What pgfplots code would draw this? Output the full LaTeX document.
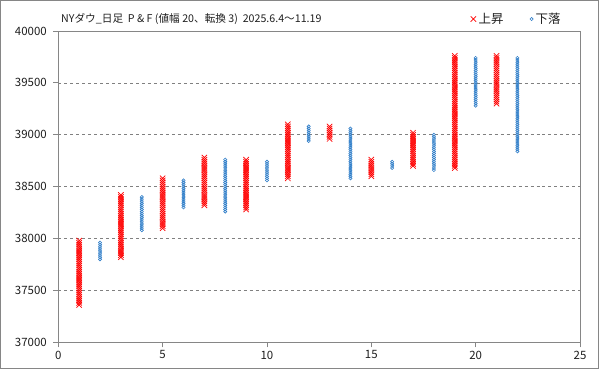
\documentclass[border=0pt]{standalone}
\usepackage{pgfplots}
\pgfplotsset{compat=1.18}
\usepackage{fontspec}
\setmainfont{Noto Sans CJK JP}
\definecolor{xred}{RGB}{255,0,0}
\definecolor{oblue}{RGB}{46,125,200}
\definecolor{axgray}{RGB}{134,134,134}
\definecolor{gridgray}{RGB}{128,128,128}
\definecolor{txt}{RGB}{30,30,30}
\begin{document}
\begin{tikzpicture}
\useasboundingbox (0bp,0bp) rectangle (599bp,369bp);
\draw[axgray, line width=1bp] (0.5bp,0.5bp) rectangle (598.5bp,368.5bp);
\node[anchor=west, font=\fontsize{10.7}{13}\selectfont, text=txt, inner sep=0pt] at (61bp,350bp) {NYダウ\_日足\ \ P \& F (値幅 20、転換 3)\ \ 2025.6.4～11.19};
\begin{axis}[
  at={(58.3bp,26.7bp)}, anchor=south west,
  scale only axis, width=521.7bp, height=311.3bp,
  xmin=0, xmax=25, ymin=37000, ymax=40000,
  xtick={0,5,...,25}, ytick={37000,37500,...,40000},
  scaled y ticks=false, scaled x ticks=false,
  ymajorgrids, grid style={gridgray, dashed, line width=0.7bp},
  axis line style={axgray, line width=0.8bp},
  every tick/.style={axgray, line width=0.8bp},
  tick align=outside, major tick length=5bp, tick pos=left,
  /pgf/number format/assume math mode=true,
  /pgf/number format/1000 sep={},
  tick label style={font=\fontsize{11.5}{13}\selectfont, text=txt},
  yticklabel style={xshift=-3bp},
  legend columns=2,
  legend style={draw=none, fill=none, at={(axis description cs:0.7901,1.0385)}, anchor=west, inner sep=0pt,
    font=\fontsize{12.5}{14}\selectfont, text=txt, nodes={inner xsep=2.5bp},
    /tikz/every even column/.append style={column sep=24bp}},
  legend cell align=left,
]
\addplot[only marks, mark=x, mark size=3.8bp, mark options={xred, line width=0.7bp}] coordinates {
(1,37360)(1,37380)(1,37400)(1,37420)(1,37440)(1,37460)(1,37480)(1,37500)(1,37520)(1,37540)(1,37560)(1,37580)(1,37600)(1,37620)(1,37640)(1,37660)(1,37680)(1,37700)(1,37720)(1,37740)(1,37760)(1,37780)(1,37800)(1,37820)(1,37840)(1,37860)(1,37880)(1,37900)(1,37920)(1,37940)(1,37960)(1,37980)
(3,37820)(3,37840)(3,37860)(3,37880)(3,37900)(3,37920)(3,37940)(3,37960)(3,37980)(3,38000)(3,38020)(3,38040)(3,38060)(3,38080)(3,38100)(3,38120)(3,38140)(3,38160)(3,38180)(3,38200)(3,38220)(3,38240)(3,38260)(3,38280)(3,38300)(3,38320)(3,38340)(3,38360)(3,38380)(3,38400)(3,38420)
(5,38100)(5,38120)(5,38140)(5,38160)(5,38180)(5,38200)(5,38220)(5,38240)(5,38260)(5,38280)(5,38300)(5,38320)(5,38340)(5,38360)(5,38380)(5,38400)(5,38420)(5,38440)(5,38460)(5,38480)(5,38500)(5,38520)(5,38540)(5,38560)(5,38580)
(7,38320)(7,38340)(7,38360)(7,38380)(7,38400)(7,38420)(7,38440)(7,38460)(7,38480)(7,38500)(7,38520)(7,38540)(7,38560)(7,38580)(7,38600)(7,38620)(7,38640)(7,38660)(7,38680)(7,38700)(7,38720)(7,38740)(7,38760)(7,38780)
(9,38280)(9,38300)(9,38320)(9,38340)(9,38360)(9,38380)(9,38400)(9,38420)(9,38440)(9,38460)(9,38480)(9,38500)(9,38520)(9,38540)(9,38560)(9,38580)(9,38600)(9,38620)(9,38640)(9,38660)(9,38680)(9,38700)(9,38720)(9,38740)(9,38760)
(11,38580)(11,38600)(11,38620)(11,38640)(11,38660)(11,38680)(11,38700)(11,38720)(11,38740)(11,38760)(11,38780)(11,38800)(11,38820)(11,38840)(11,38860)(11,38880)(11,38900)(11,38920)(11,38940)(11,38960)(11,38980)(11,39000)(11,39020)(11,39040)(11,39060)(11,39080)(11,39100)
(13,38960)(13,38980)(13,39000)(13,39020)(13,39040)(13,39060)(13,39080)
(15,38600)(15,38620)(15,38640)(15,38660)(15,38680)(15,38700)(15,38720)(15,38740)(15,38760)
(17,38700)(17,38720)(17,38740)(17,38760)(17,38780)(17,38800)(17,38820)(17,38840)(17,38860)(17,38880)(17,38900)(17,38920)(17,38940)(17,38960)(17,38980)(17,39000)(17,39020)
(19,38680)(19,38700)(19,38720)(19,38740)(19,38760)(19,38780)(19,38800)(19,38820)(19,38840)(19,38860)(19,38880)(19,38900)(19,38920)(19,38940)(19,38960)(19,38980)(19,39000)(19,39020)(19,39040)(19,39060)(19,39080)(19,39100)(19,39120)(19,39140)(19,39160)(19,39180)(19,39200)(19,39220)(19,39240)(19,39260)(19,39280)(19,39300)(19,39320)(19,39340)(19,39360)(19,39380)(19,39400)(19,39420)(19,39440)(19,39460)(19,39480)(19,39500)(19,39520)(19,39540)(19,39560)(19,39580)(19,39600)(19,39620)(19,39640)(19,39660)(19,39680)(19,39700)(19,39720)(19,39740)(19,39760)
(21,39300)(21,39320)(21,39340)(21,39360)(21,39380)(21,39400)(21,39420)(21,39440)(21,39460)(21,39480)(21,39500)(21,39520)(21,39540)(21,39560)(21,39580)(21,39600)(21,39620)(21,39640)(21,39660)(21,39680)(21,39700)(21,39720)(21,39740)(21,39760)
};
\addlegendentry{上昇}
\addplot[only marks, mark=o, mark size=1.6bp, mark options={oblue, fill=white, line width=0.6bp}] coordinates {
(2,37800)(2,37820)(2,37840)(2,37860)(2,37880)(2,37900)(2,37920)(2,37940)(2,37960)
(4,38080)(4,38100)(4,38120)(4,38140)(4,38160)(4,38180)(4,38200)(4,38220)(4,38240)(4,38260)(4,38280)(4,38300)(4,38320)(4,38340)(4,38360)(4,38380)(4,38400)
(6,38300)(6,38320)(6,38340)(6,38360)(6,38380)(6,38400)(6,38420)(6,38440)(6,38460)(6,38480)(6,38500)(6,38520)(6,38540)(6,38560)
(8,38260)(8,38280)(8,38300)(8,38320)(8,38340)(8,38360)(8,38380)(8,38400)(8,38420)(8,38440)(8,38460)(8,38480)(8,38500)(8,38520)(8,38540)(8,38560)(8,38580)(8,38600)(8,38620)(8,38640)(8,38660)(8,38680)(8,38700)(8,38720)(8,38740)(8,38760)
(10,38560)(10,38580)(10,38600)(10,38620)(10,38640)(10,38660)(10,38680)(10,38700)(10,38720)(10,38740)
(12,38940)(12,38960)(12,38980)(12,39000)(12,39020)(12,39040)(12,39060)(12,39080)
(14,38580)(14,38600)(14,38620)(14,38640)(14,38660)(14,38680)(14,38700)(14,38720)(14,38740)(14,38760)(14,38780)(14,38800)(14,38820)(14,38840)(14,38860)(14,38880)(14,38900)(14,38920)(14,38940)(14,38960)(14,38980)(14,39000)(14,39020)(14,39040)(14,39060)
(16,38680)(16,38700)(16,38720)(16,38740)
(18,38660)(18,38680)(18,38700)(18,38720)(18,38740)(18,38760)(18,38780)(18,38800)(18,38820)(18,38840)(18,38860)(18,38880)(18,38900)(18,38920)(18,38940)(18,38960)(18,38980)(18,39000)
(20,39280)(20,39300)(20,39320)(20,39340)(20,39360)(20,39380)(20,39400)(20,39420)(20,39440)(20,39460)(20,39480)(20,39500)(20,39520)(20,39540)(20,39560)(20,39580)(20,39600)(20,39620)(20,39640)(20,39660)(20,39680)(20,39700)(20,39720)(20,39740)
(22,38840)(22,38860)(22,38880)(22,38900)(22,38920)(22,38940)(22,38960)(22,38980)(22,39000)(22,39020)(22,39040)(22,39060)(22,39080)(22,39100)(22,39120)(22,39140)(22,39160)(22,39180)(22,39200)(22,39220)(22,39240)(22,39260)(22,39280)(22,39300)(22,39320)(22,39340)(22,39360)(22,39380)(22,39400)(22,39420)(22,39440)(22,39460)(22,39480)(22,39500)(22,39520)(22,39540)(22,39560)(22,39580)(22,39600)(22,39620)(22,39640)(22,39660)(22,39680)(22,39700)(22,39720)(22,39740)
};
\addlegendentry{下落}
\end{axis}
\end{tikzpicture}
\end{document}
